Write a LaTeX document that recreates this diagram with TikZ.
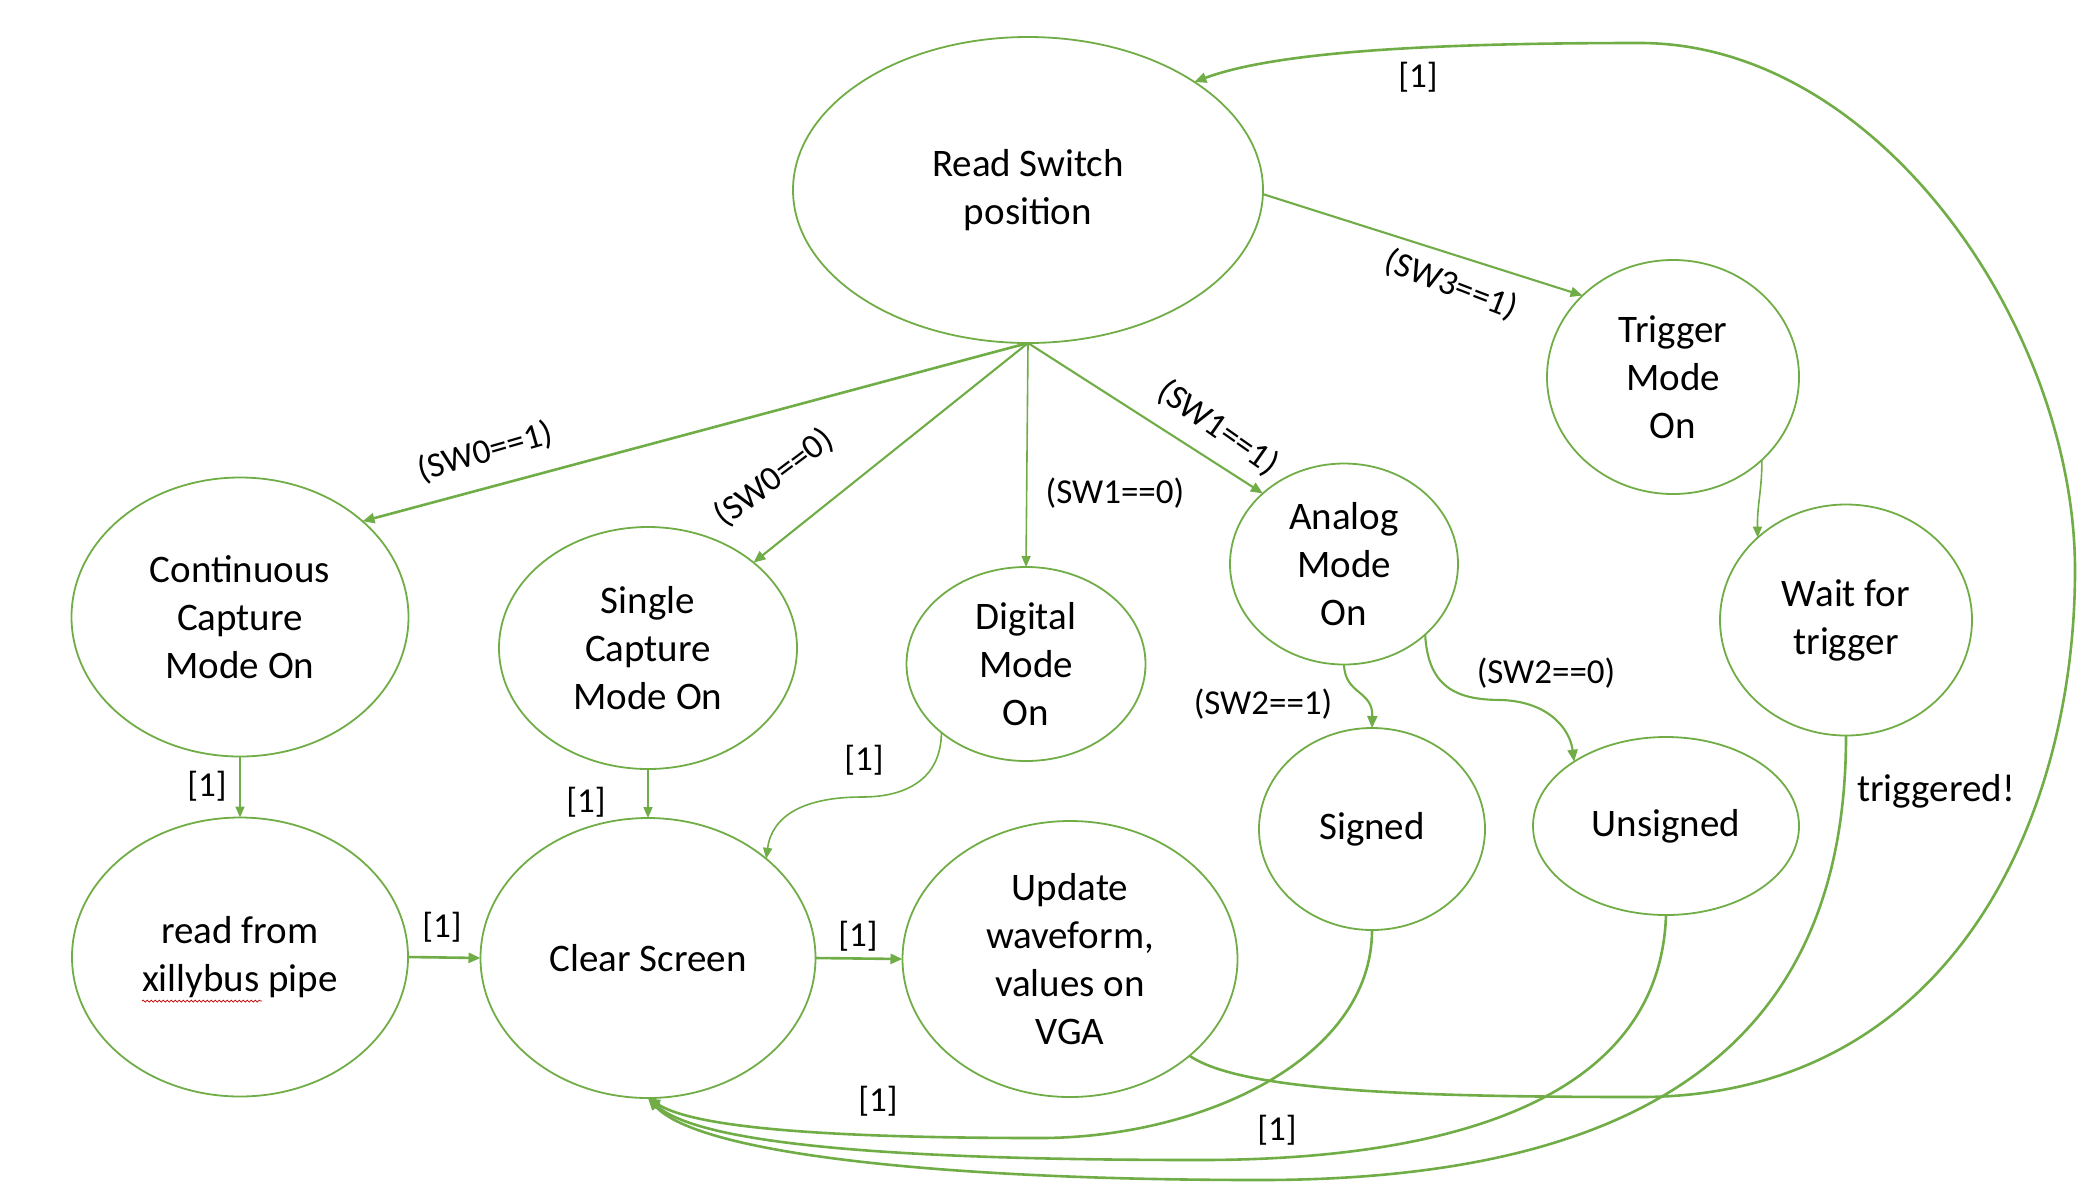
\documentclass[tikz,border=0pt]{standalone}
\usepackage{fontspec}
\setmainfont{Carlito}
\usetikzlibrary{arrows.meta,shapes.geometric,decorations.pathmorphing}
\definecolor{og}{HTML}{70AD47}
\begin{document}
\begin{tikzpicture}[x=0.5pt,y=-0.5pt,
  st/.style={ellipse,draw=og,line width=0.9pt,inner sep=0pt,outer sep=0pt,align=center,font=\fontsize{19.5}{24}\selectfont},
  ar/.style={draw=og,line width=1.3pt,-{Triangle[length=6pt,width=5pt]}},
  arthin/.style={draw=og,line width=0.8pt,-{Triangle[length=5.5pt,width=4.5pt]}},
  armid/.style={draw=og,line width=1.05pt,-{Triangle[length=6pt,width=5pt]}},
  lab/.style={font=\fontsize{17.5}{21}\selectfont,inner sep=0pt},
  bigl/.style={font=\fontsize{19.5}{24}\selectfont,inner sep=0pt}]
\useasboundingbox (0,0) rectangle (2082,1190);

% states
\node[st,minimum width=235pt,minimum height=153pt] (rs) at (1028,190) {Read Switch\\position};
\node[st,minimum width=126pt,minimum height=117pt] (trig) at (1673,377) {Trigger\\Mode\\On};
\node[st,minimum width=168.5pt,minimum height=139.5pt] (cont) at (240,617) {Continuous\\Capture\\Mode On};
\node[st,minimum width=149pt,minimum height=121pt] (single) at (648,648) {Single\\Capture\\Mode On};
\node[st,minimum width=119.5pt,minimum height=97pt] (digital) at (1026,664) {Digital\\Mode\\On};
\node[st,minimum width=114pt,minimum height=100.5pt] (analog) at (1344,564) {Analog\\Mode\\On};
\node[st,minimum width=126pt,minimum height=115.5pt] (wait) at (1846,620) {Wait for\\trigger};
\node[st,minimum width=113pt,minimum height=101pt] (signed) at (1372,829) {Signed};
\node[st,minimum width=133pt,minimum height=89pt] (unsigned) at (1666,826) {Unsigned};
\node[st,minimum width=168pt,minimum height=139.5pt] (readf) at (240,957) {read from\\xillybus pipe};
\node[st,minimum width=167.5pt,minimum height=140pt] (clear) at (648,958) {Clear Screen};
\node[st,minimum width=167.5pt,minimum height=138pt] (update) at (1070,959) {Update\\waveform,\\values on\\VGA};

% spell-check underline
\draw[red!80!black,line width=0.35pt,decorate,decoration={snake,amplitude=0.5pt,segment length=2pt}] (142,1001) -- (262,1001);

% fan out of Read Switch
\draw[ar] (rs.south) -- (cont.38);
\draw[armid] (rs.south) -- (single.39);
\draw[arthin] (rs.south) -- (digital.north);
\draw[armid] (rs.south) -- (analog.139);
\draw[armid] (rs.-1) -- (trig.138);

\node[lab,rotate=16] (l1) at (485,452) {(SW0==1)};
\node[lab,rotate=37] (l2) at (774,478) {(SW0==0)};
\node[lab] (l3) at (1115,493) {(SW1==0)};
\node[lab,rotate=-35] (l4) at (1218,428) {(SW1==1)};
\node[lab,rotate=-21] (l5) at (1451,285) {(SW3==1)};

% trigger -> wait
\draw[arthin] (trig.-43) .. controls (1762,490) and (1757,505) .. (wait.137);

% capture paths
\draw[arthin] (cont.south) -- (readf.north);
\node[lab] (l6) at (207,786) {[1]};
\draw[arthin] (single.south) -- (clear.north);
\node[lab] (l7) at (586,802) {[1]};
\draw[arthin] (digital.-141) .. controls (941,780) and (905,797) .. (862,797)
   .. controls (805,797) and (772,815) .. (clear.40);
\node[lab] (l8) at (864,760) {[1]};
\draw[ar] (readf.east) -- (clear.west);
\node[lab] (l9) at (442,927) {[1]};
\draw[ar] (clear.east) -- (update.west);
\node[lab] (l10) at (858,936) {[1]};

% analog branches
\draw[armid] (analog.south) .. controls (1345,695) and (1373,690) .. (signed.north);
\node[lab] (l11) at (1263,704) {(SW2==1)};
\draw[armid] (analog.-41) .. controls (1428,690) and (1460,700) .. (1502,700)
   .. controls (1550,702) and (1570,730) .. (unsigned.145);
\node[lab] (l12) at (1546,673) {(SW2==0)};

% returns to Clear Screen
\draw[ar] (signed.south) .. controls (1372,1060) and (1200,1138) .. (1040,1138)
   .. controls (800,1138) and (690,1125) .. (clear.south);
\node[lab] (l13) at (878,1101) {[1]};
\draw[ar] (unsigned.south) .. controls (1660,1100) and (1450,1160) .. (1200,1160)
   .. controls (900,1160) and (700,1145) .. (clear.south);
\node[lab] (l14) at (1277,1130) {[1]};
\draw[ar] (wait.south) .. controls (1846,1000) and (1700,1180) .. (1260,1180)
   .. controls (950,1180) and (700,1155) .. (clear.south);
\node[bigl] (l15) at (1936,791) {triggered!};

% update -> read switch
\draw[ar] (update.-39) .. controls (1240,1090) and (1400,1097) .. (1640,1097)
   .. controls (1950,1097) and (2075,820) .. (2075,570)
   .. controls (2075,330) and (1880,43) .. (1640,43)
   .. controls (1450,43) and (1280,50) .. (rs.33);
\node[lab] (l16) at (1418,77) {[1]};
\end{tikzpicture}
\end{document}
